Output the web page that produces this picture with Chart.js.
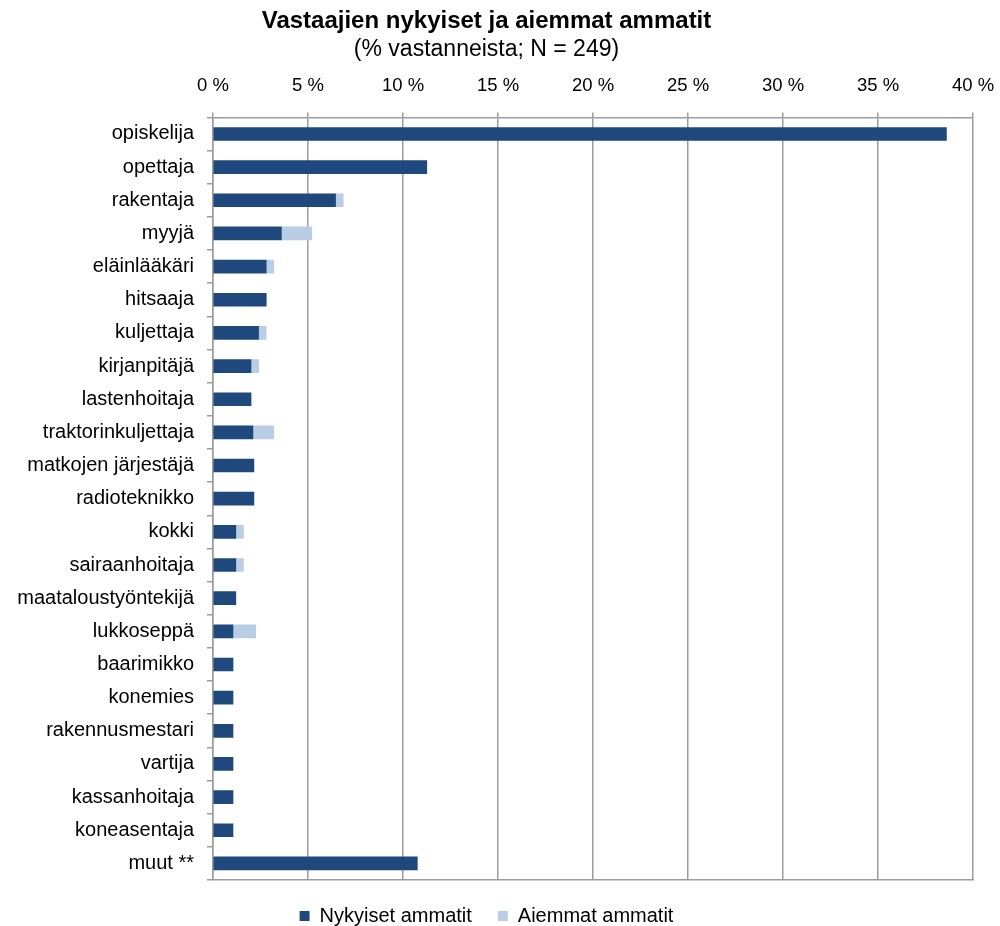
<!DOCTYPE html>
<html>
<head>
<meta charset="utf-8">
<script src="https://cdn.jsdelivr.net/npm/chart.js@4.4.0/dist/chart.umd.min.js"></script>
<style>
  html, body { margin: 0; padding: 0; background: #fff; }
  #wrap { width: 1000px; height: 926px; }
</style>
</head>
<body>
<div id="wrap"><canvas id="occChart" width="1000" height="926"></canvas></div>
<script>
// ===== DATA =====
const occupations = [
  "opiskelija", "opettaja", "rakentaja", "myyjä", "eläinlääkäri", "hitsaaja",
  "kuljettaja", "kirjanpitäjä", "lastenhoitaja", "traktorinkuljettaja",
  "matkojen järjestäjä", "radioteknikko", "kokki", "sairaanhoitaja",
  "maataloustyöntekijä", "lukkoseppä", "baarimikko", "konemies",
  "rakennusmestari", "vartija", "kassanhoitaja", "koneasentaja", "muut **"
];
const currentJobs = [38.6, 11.25, 6.45, 3.6, 2.8, 2.8, 2.4, 2.0, 2.0, 2.1,
  2.15, 2.15, 1.2, 1.2, 1.2, 1.05, 1.05, 1.05, 1.05, 1.05, 1.05, 1.05, 10.75];
const formerJobs = [0, 0, 0.4, 1.6, 0.4, 0, 0.4, 0.4, 0, 1.1,
  0, 0, 0.4, 0.4, 0, 1.2, 0, 0, 0, 0, 0, 0, 0];
const xTicks = [0, 5, 10, 15, 20, 25, 30, 35, 40];

const seriesNames = ["Nykyiset ammatit", "Aiemmat ammatit"];
const gridGrey = "#9c9c9c";
const FONT = "'Liberation Sans', Arial, sans-serif";

Chart.defaults.font.family = FONT;
Chart.defaults.color = "#000";

const occChart = new Chart(document.getElementById("occChart"), {
  type: "bar",
  data: {
    labels: occupations,
    datasets: [
      { label: seriesNames[0], data: currentJobs, backgroundColor: "#1F497D", barThickness: 13 },
      { label: seriesNames[1], data: formerJobs, backgroundColor: "#B9CDE5", barThickness: 13 }
    ]
  },
  options: {
    indexAxis: "y",
    responsive: false,
    animation: false,
    layout: { padding: { left: 0, right: 27, top: 0, bottom: -10 } },
    plugins: {
      title: {
        display: true,
        text: "Vastaajien nykyiset ja aiemmat ammatit",
        font: { size: 24, weight: "bold" },
        padding: { top: 7, bottom: 0 }
      },
      subtitle: {
        display: true,
        text: "(% vastanneista; N = 249)",
        font: { size: 23 },
        padding: { top: 0, bottom: 0 }
      },
      legend: {
        position: "bottom",
        labels: { boxWidth: 10, boxHeight: 10, font: { size: 20 }, padding: 26 }
      },
      tooltip: { enabled: false }
    },
    scales: {
      x: {
        position: "top",
        stacked: true,
        min: 0,
        max: 40,
        afterBuildTicks: (scale) => { scale.ticks = xTicks.map(v => ({ value: v })); },
        afterFit: (scale) => {
          scale.height = 54;
          scale.paddingLeft = 0;
          scale.paddingRight = 0;
        },
        ticks: { font: { size: 18.5 }, padding: 15, callback: (v) => v + " %" },
        grid: { color: gridGrey, lineWidth: 1.5, tickLength: 5 },
        border: { color: gridGrey, width: 1.5 }
      },
      xBottom: {
        position: "bottom",
        type: "linear",
        min: 0,
        max: 40,
        afterFit: (scale) => {
          scale.height = 0;
          scale.paddingLeft = 0;
          scale.paddingRight = 0;
        },
        ticks: { display: false },
        grid: { display: false },
        border: { display: true, color: gridGrey, width: 1.5 }
      },
      y: {
        stacked: true,
        afterFit: (scale) => { scale.width = 213; },
        ticks: { font: { size: 20 }, padding: 13 },
        grid: { offset: true, drawOnChartArea: false, color: gridGrey, lineWidth: 1.5, tickLength: 6 },
        border: { color: gridGrey, width: 1.5 }
      }
    }
  }
});
</script>
</body>
</html>
